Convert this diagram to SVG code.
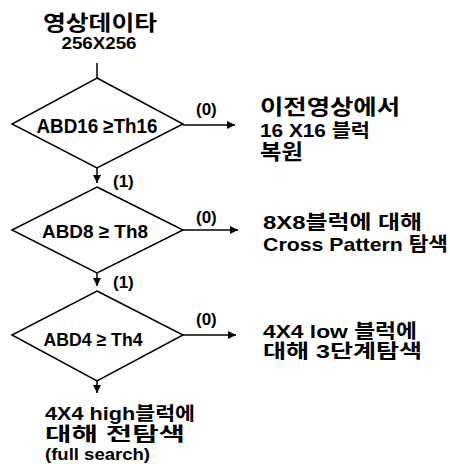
<svg xmlns="http://www.w3.org/2000/svg" width="450" height="464" viewBox="0 0 450 464">
  <style>
    .t { font-family: "Liberation Sans", "Noto Sans CJK KR", sans-serif; font-weight: bold; fill: #000; }
    .d { fill: #fff; stroke: #000; stroke-width: 1.5; }
    .c { fill: none; stroke: #000; stroke-width: 1.5; }
    .lbl { font-family: "Liberation Sans", "Noto Sans CJK KR", sans-serif; font-weight: bold; font-size: 17px; fill: #000; }
  </style>
  <defs>
    <marker id="arrow" viewBox="0 0 10 10" refX="10" refY="5" markerWidth="8" markerHeight="8" markerUnits="userSpaceOnUse" orient="auto">
      <path d="M0,0 L10,5 L0,10 z" fill="#000"/>
    </marker>
  </defs>

  <!-- input -->
  <g id="input">
    <text class="t" x="100" y="30" font-size="21" text-anchor="middle" textLength="114" lengthAdjust="spacingAndGlyphs">영상데이타</text>
    <text class="t" x="99" y="49" font-size="16" text-anchor="middle" textLength="75" lengthAdjust="spacingAndGlyphs">256X256</text>
  </g>

  <!-- decisions -->
  <g id="dec16">
    <polygon class="d" points="97,78 183,124 97,168 12,124"/>
    <text class="t" x="97" y="133" font-size="20" text-anchor="middle" textLength="121" lengthAdjust="spacingAndGlyphs">ABD16 ≥Th16</text>
  </g>
  <g id="dec8">
    <polygon class="d" points="97,187 183,230 97,273 12,230"/>
    <text class="t" x="95" y="238" font-size="19" text-anchor="middle" textLength="106" lengthAdjust="spacingAndGlyphs">ABD8 ≥ Th8</text>
  </g>
  <g id="dec4">
    <polygon class="d" points="97,291 183,335 97,381 12,335"/>
    <text class="t" x="93" y="346" font-size="19" text-anchor="middle" textLength="99" lengthAdjust="spacingAndGlyphs">ABD4 ≥ Th4</text>
  </g>

  <!-- outcomes -->
  <g id="restore16">
    <text class="t" x="260" y="114" font-size="21" textLength="140" lengthAdjust="spacingAndGlyphs">이전영상에서</text>
    <text class="t" x="260" y="137" font-size="18" textLength="110" lengthAdjust="spacingAndGlyphs">16 X16 블럭</text>
    <text class="t" x="260" y="159" font-size="21" textLength="43" lengthAdjust="spacingAndGlyphs">복원</text>
  </g>
  <g id="cross8">
    <text class="t" x="263" y="229" font-size="19" textLength="159" lengthAdjust="spacingAndGlyphs">8X8블럭에 대해</text>
    <text class="t" x="263" y="251" font-size="19" textLength="185" lengthAdjust="spacingAndGlyphs">Cross Pattern 탐색</text>
  </g>
  <g id="step3">
    <text class="t" x="263" y="338" font-size="19" textLength="154" lengthAdjust="spacingAndGlyphs">4X4 low 블럭에</text>
    <text class="t" x="263" y="358" font-size="19" textLength="159" lengthAdjust="spacingAndGlyphs">대해 3단계탐색</text>
  </g>
  <g id="full">
    <text class="t" x="45" y="420" font-size="18" textLength="150" lengthAdjust="spacingAndGlyphs">4X4 high블럭에</text>
    <text class="t" x="45" y="441" font-size="19" textLength="140" lengthAdjust="spacingAndGlyphs">대해 전탐색</text>
    <text class="t" x="45" y="460" font-size="16" textLength="105" lengthAdjust="spacingAndGlyphs">(full search)</text>
  </g>

  <!-- connectors -->
  <g id="connectors">
    <line class="c" x1="97" y1="63" x2="97" y2="78"/>
    <line class="c" x1="97" y1="168" x2="97" y2="183" marker-end="url(#arrow)"/>
    <line class="c" x1="97" y1="273" x2="97" y2="286" marker-end="url(#arrow)"/>
    <line class="c" x1="97" y1="381" x2="97" y2="393" marker-end="url(#arrow)"/>
    <line class="c" x1="183" y1="125" x2="235" y2="125" marker-end="url(#arrow)"/>
    <line class="c" x1="183" y1="230" x2="238" y2="230" marker-end="url(#arrow)"/>
    <line class="c" x1="183" y1="335" x2="236" y2="335" stroke-width="2.5" marker-end="url(#arrow)"/>
    <text class="lbl" x="196" y="115">(0)</text>
    <text class="lbl" x="196" y="223">(0)</text>
    <text class="lbl" x="196" y="325">(0)</text>
    <text class="lbl" x="113" y="187">(1)</text>
    <text class="lbl" x="113" y="288">(1)</text>
  </g>
</svg>
